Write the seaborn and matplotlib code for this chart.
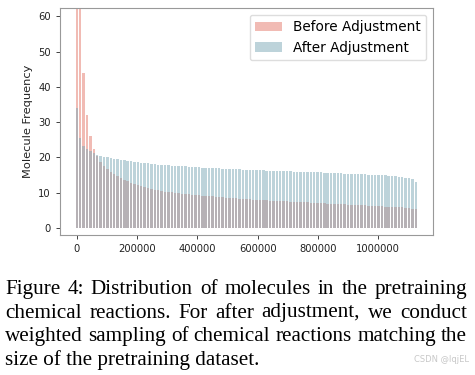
import matplotlib
matplotlib.use("Agg")
import matplotlib.pyplot as plt
import seaborn as sns
import numpy as np

# molecule rank positions (one bar every 11250 molecules)
positions = np.arange(0, 1136250, 11250)

before_adjustment = [
    150, 78, 44, 32, 26, 22.5, 20.3, 18.8, 17.6, 16.7,
    15.9, 15.2, 14.7, 14.2, 13.7, 13.3, 12.9, 12.5, 12.2, 11.9,
    11.6, 11.35, 11.1, 10.9, 10.7, 10.5, 10.35, 10.2, 10.1, 9.95,
    9.85, 9.75, 9.65, 9.55, 9.45, 9.35, 9.25, 9.15, 9.1, 9.0,
    8.95, 8.9, 8.8, 8.75, 8.65, 8.6, 8.5, 8.45, 8.35, 8.3,
    8.2, 8.1, 8.05, 8.0, 7.95, 7.9, 7.85, 7.8, 7.75, 7.7,
    7.65, 7.6, 7.55, 7.5, 7.45, 7.4, 7.35, 7.3, 7.25, 7.2,
    7.15, 7.1, 7.05, 7.0, 6.95, 6.9, 6.85, 6.8, 6.75, 6.7,
    6.65, 6.6, 6.55, 6.5, 6.45, 6.4, 6.35, 6.3, 6.25, 6.2,
    6.15, 6.1, 6.05, 6.0, 5.95, 5.9, 5.85, 5.75, 5.65, 5.5,
    5.3,
]

after_adjustment = [
    34, 25.5, 23.2, 22.4, 21.7, 21.2, 20.8, 20.5, 20.2, 20.0,
    19.8, 19.6, 19.5, 19.35, 19.2, 19.05, 18.9, 18.75, 18.6, 18.5,
    18.4, 18.3, 18.2, 18.1, 18.0, 17.95, 17.85, 17.8, 17.7, 17.65,
    17.6, 17.5, 17.45, 17.4, 17.3, 17.25, 17.2, 17.15, 17.1, 17.05,
    17.0, 16.95, 16.9, 16.85, 16.8, 16.75, 16.7, 16.65, 16.6, 16.55,
    16.5, 16.5, 16.45, 16.4, 16.4, 16.35, 16.3, 16.25, 16.25, 16.2,
    16.15, 16.1, 16.1, 16.05, 16.0, 16.0, 15.95, 15.9, 15.9, 15.85,
    15.8, 15.8, 15.75, 15.7, 15.65, 15.6, 15.6, 15.55, 15.5, 15.45,
    15.4, 15.4, 15.35, 15.3, 15.25, 15.2, 15.15, 15.1, 15.05, 15.0,
    14.95, 14.9, 14.8, 14.75, 14.65, 14.55, 14.45, 14.3, 14.1, 13.8,
    13.0,
]

caption_lines = [
    "Figure 4: Distribution of molecules in the pretraining",
    "chemical reactions. For after adjustment, we conduct",
    "weighted sampling of chemical reactions matching the",
    "size of the pretraining dataset.",
]

fig = plt.figure(figsize=(4.75, 3.75), dpi=100)
ax = fig.add_axes([0.126, 0.373, 0.786, 0.606])

sns.barplot(x=positions, y=before_adjustment, native_scale=True, width=0.72,
            color="#fa8072", alpha=0.6, linewidth=0, errorbar=None,
            label="Before Adjustment", ax=ax)
sns.barplot(x=positions, y=after_adjustment, native_scale=True, width=0.72,
            color="#73adc1", alpha=0.5, linewidth=0, errorbar=None,
            label="After Adjustment", ax=ax)

ax.set_xlim(-56500, 1182700)
ax.set_ylim(-2, 62.4)
ax.set_xticks([0, 200000, 400000, 600000, 800000, 1000000])
ax.set_yticks([0, 10, 20, 30, 40, 50, 60])
ax.ticklabel_format(axis="x", style="plain")
ax.set_xlabel("")
ax.set_ylabel("Molecule Frequency", fontsize=8.2, color="#222222")
ax.tick_params(labelsize=7.2, colors="#222222", length=3, width=0.6)
for sp in ax.spines.values():
    sp.set_color("#999999")
    sp.set_linewidth(0.8)

ax.legend(loc="upper right", fontsize=9.8, handlelength=2.0, framealpha=1,
          edgecolor="#dddddd")

# caption, justified like the paper (last line left aligned)
renderer = fig.canvas.get_renderer()
x_left, x_right = 5 / 475, 467 / 475
baselines = [294, 317.5, 341, 364.5]
for i, line in enumerate(caption_lines):
    y = 1 - baselines[i] / 375
    kw = dict(family="Liberation Serif", fontsize=15.2, va="baseline", ha="left")
    if i == len(caption_lines) - 1:
        fig.text(x_left, y, line, **kw)
        continue
    words = line.split(" ")
    texts = [fig.text(0, y, w, **kw) for w in words]
    widths = [t.get_window_extent(renderer).width / fig.bbox.width for t in texts]
    gap = (x_right - x_left - sum(widths)) / (len(words) - 1)
    x = x_left
    for t, w in zip(texts, widths):
        t.set_x(x)
        x += w + gap

fig.text(0.988, 0.028, "CSDN @lqjEL", ha="right", va="bottom",
         fontsize=6, color="#c8c8c8")

fig.savefig("out.png", dpi=100)
